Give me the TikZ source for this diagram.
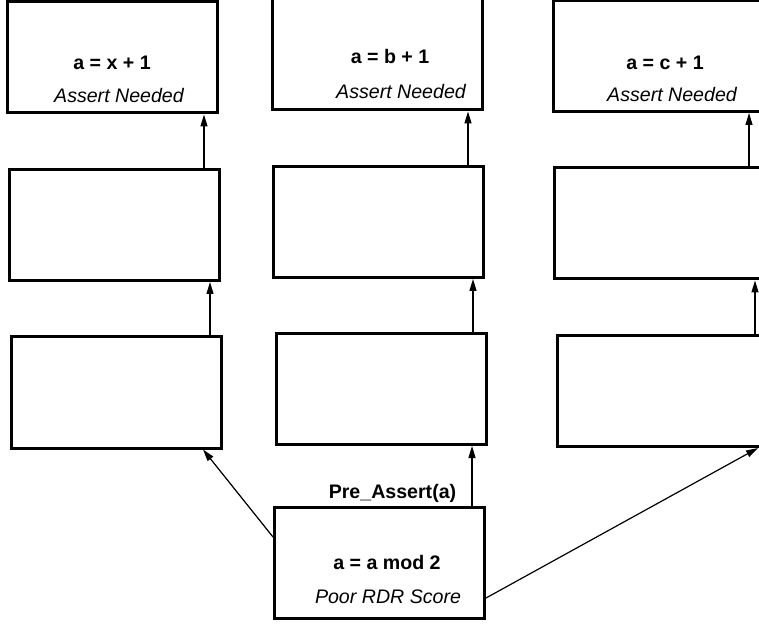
\documentclass[tikz,border=0pt]{standalone}
\usepackage{fontspec}
\setmainfont{Liberation Sans}
\usetikzlibrary{arrows.meta}

\begin{document}
\begin{tikzpicture}[x=0.5pt,y=-0.5pt,
    blk/.style={draw,line width=1.5pt,minimum width=105pt,minimum height=55.5pt,inner sep=0pt},
    expr/.style={font=\fontsize{9.8}{12}\selectfont\bfseries,inner sep=0pt},
    note/.style={font=\fontsize{9.8}{12}\selectfont\itshape,inner sep=0pt},
    link/.style={->,line width=0.6pt},
    >={Triangle[length=6pt,width=3.5pt]}]
  \useasboundingbox (0,0) rectangle (759,624);
  \clip (0,0) rectangle (759,624);
  % three columns of blocks
  \node[blk] (t1) at (112.5,57.5) {};
  \node[blk] (m1) at (114,225) {};
  \node[blk] (b1) at (116.5,392.5) {};
  \node[blk] (t2) at (377,54.5) {};
  \node[blk] (m2) at (378,222) {};
  \node[blk] (b2) at (381,389) {};
  \node[blk] (t3) at (658,56) {};
  \node[blk] (m3) at (659,223.5) {};
  \node[blk] (b3) at (662,391) {};
  \node[blk] (mod) at (379.5,563) {};
  % texts
  \node[expr] (x1) at (112,63) {a = x + 1};
  \node[note] (n1) at (119,96) {Assert Needed};
  \node[expr] (x2) at (390,57) {a = b + 1};
  \node[note] (n2) at (401,92) {Assert Needed};
  \node[expr] (x3) at (665,63) {a = c + 1};
  \node[note] (n3) at (672,95) {Assert Needed};
  \node[expr] (xm) at (387,562) {a = a mod 2};
  \node[note] (nm) at (388,597) {Poor RDR Score};
  \node[expr] (pre) at (392.5,493) {Pre\_Assert(a)};
  % arrow columns
  \coordinate (c1u) at (204,0);
  \coordinate (c1l) at (210,0);
  \coordinate (c2u) at (468,0);
  \coordinate (c2l) at (473,0);
  \coordinate (c2p) at (472,0);
  \coordinate (c3u) at (749,0);
  \coordinate (c3l) at (755,0);
  \draw[link] (m1.north -| c1u) -- (t1.south -| c1u);
  \draw[link] (b1.north -| c1l) -- (m1.south -| c1l);
  \draw[link] (m2.north -| c2u) -- (t2.south -| c2u);
  \draw[link] (b2.north -| c2l) -- (m2.south -| c2l);
  \draw[link] (m3.north -| c3u) -- (t3.south -| c3u);
  \draw[link] (b3.north -| c3l) -- (m3.south -| c3l);
  \draw[link] (mod.north -| c2p) -- (b2.south -| c2p);
  \draw[link] ([yshift=13pt]mod.west) -- ([xshift=-10pt]b1.south east);
  \draw[link] ([yshift=-17.5pt]mod.east) -- ([xshift=48pt]b3.south);
\end{tikzpicture}
\end{document}
